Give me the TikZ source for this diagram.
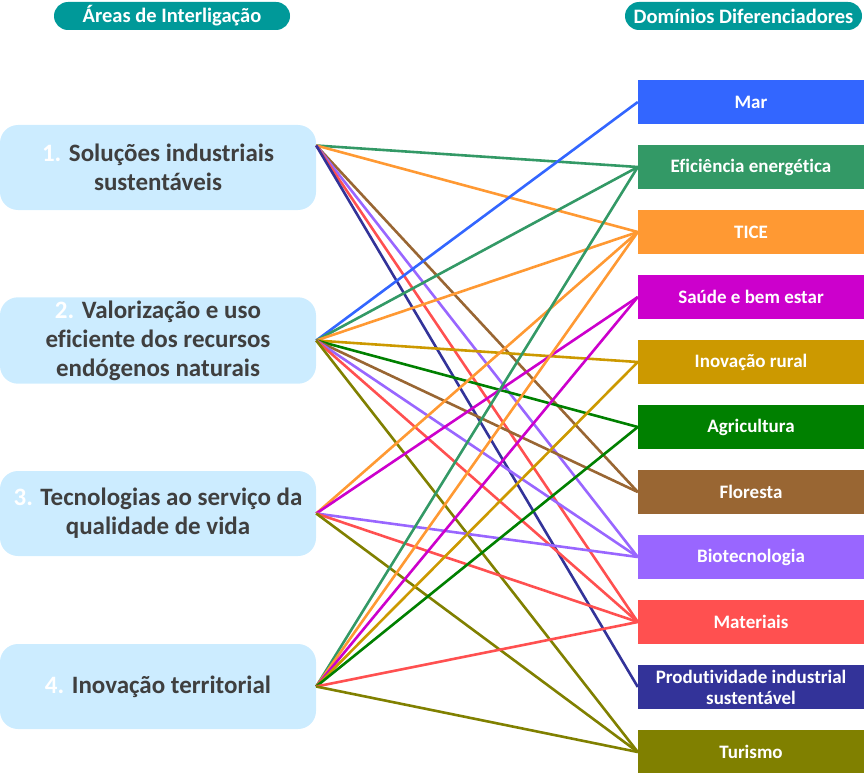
\documentclass[tikz,border=0pt]{standalone}
\usepackage{fontspec}
\setmainfont{Carlito}[Ligatures=NoCommon]
\usepackage[]{xcolor}
\usetikzlibrary{positioning}

\definecolor{areablue}{HTML}{CCECFF}
\definecolor{areatext}{HTML}{3F3F3F}
\definecolor{headteal}{HTML}{009999}
\definecolor{cmar}{HTML}{3366FF}
\definecolor{cefic}{HTML}{339966}
\definecolor{ctice}{HTML}{FF9933}
\definecolor{csaude}{HTML}{CC00CC}
\definecolor{crural}{HTML}{CC9900}
\definecolor{cagri}{HTML}{008000}
\definecolor{cflor}{HTML}{996633}
\definecolor{cbio}{HTML}{9966FF}
\definecolor{cmat}{HTML}{FF5050}
\definecolor{cprod}{HTML}{333399}
\definecolor{ctur}{HTML}{808000}

\newcommand{\numarea}[1]{\textcolor{white}{#1}}

\begin{document}
\begin{tikzpicture}[
            x=1pt, y=-1pt,
            node distance=65pt,
            titulo/.style={rectangle, fill=headteal, rounded corners=14pt, minimum width=236pt, minimum height=28pt, inner sep=0pt, text=white, font=\fontsize{20.5}{22}\selectfont\bfseries},
            area/.style={rectangle, fill=areablue, rounded corners=18pt, minimum width=316pt, minimum height=85pt, align=center, text=areatext, font=\fontsize{25}{29}\selectfont\bfseries},
            dominio/.style={rectangle, minimum width=226pt, minimum height=44pt, inner sep=2pt, align=center, text=white, font=\fontsize{19}{21}\selectfont\bfseries},
            link/.style={line width=2.6pt}
        ]
            \useasboundingbox (0,0) rectangle (864,773);

            \node[titulo] (tarea) at (172,16) {Áreas de Interligação};
            \node[titulo, minimum width=237pt] (tdom) at (743.5,16) {Domínios Diferenciadores};

            \node[area] (ai1) at (158,167.5) {\numarea{1.} Soluções industriais\\sustentáveis};
            \node[area, node distance=173pt, below of=ai1] (ai2) {\numarea{2.} Valorização e uso\\eficiente dos recursos\\endógenos naturais};
            \node[area, node distance=173pt, below of=ai2] (ai3) {\numarea{3.} Tecnologias ao serviço da\\qualidade de vida};
            \node[area, node distance=173pt, below of=ai3] (ai4) {\numarea{4.} Inovação territorial};
            \coordinate (ai1out) at ([yshift=22pt]ai1.east);

            \node[dominio, fill=cmar] (mar) at (751,102) {Mar};
            \node[dominio, fill=cefic, below of=mar] (efic) {Eficiência energética};
            \node[dominio, fill=ctice, below of=efic] (tice) {TICE};
            \node[dominio, fill=csaude, below of=tice] (saude) {Saúde e bem estar};
            \node[dominio, fill=crural, below of=saude] (rural) {Inovação rural};
            \node[dominio, fill=cagri, below of=rural] (agri) {Agricultura};
            \node[dominio, fill=cflor, below of=agri] (flor) {Floresta};
            \node[dominio, fill=cbio, below of=flor] (bio) {Biotecnologia};
            \node[dominio, fill=cmat, below of=bio] (mat) {Materiais};
            \node[dominio, fill=cprod, below of=mat] (prod) {Produtividade industrial\\sustentável};
            \node[dominio, fill=ctur, below of=prod] (tur) {Turismo};

            % 1. Soluções industriais sustentáveis
            \draw[link, cefic] (ai1out) -- (efic.west);
            \draw[link, ctice] (ai1out) -- (tice.west);
            \draw[link, cflor] (ai1out) -- (flor.west);
            \draw[link, cbio] (ai1out) -- (bio.west);
            \draw[link, cmat] (ai1out) -- (mat.west);
            \draw[link, cprod] (ai1out) -- (prod.west);

            % 2. Valorização e uso eficiente dos recursos
            \draw[link, cmar] (ai2.east) -- (mar.west);
            \draw[link, cefic] (ai2.east) -- (efic.west);
            \draw[link, ctice] (ai2.east) -- (tice.west);
            \draw[link, crural] (ai2.east) -- (rural.west);
            \draw[link, cagri] (ai2.east) -- (agri.west);
            \draw[link, cflor] (ai2.east) -- (flor.west);
            \draw[link, cbio] (ai2.east) -- (bio.west);
            \draw[link, cmat] (ai2.east) -- (mat.west);
            \draw[link, ctur] (ai2.east) -- (tur.west);

            % 3. Tecnologias ao serviço da qualidade de vida
            \draw[link, ctice] (ai3.east) -- (tice.west);
            \draw[link, csaude] (ai3.east) -- (saude.west);
            \draw[link, cbio] (ai3.east) -- (bio.west);
            \draw[link, cmat] (ai3.east) -- (mat.west);
            \draw[link, ctur] (ai3.east) -- (tur.west);

            % 4. Inovação territorial
            \draw[link, cefic] (ai4.east) -- (efic.west);
            \draw[link, ctice] (ai4.east) -- (tice.west);
            \draw[link, csaude] (ai4.east) -- (saude.west);
            \draw[link, crural] (ai4.east) -- (rural.west);
            \draw[link, cagri] (ai4.east) -- (agri.west);
            \draw[link, cmat] (ai4.east) -- (mat.west);
            \draw[link, ctur] (ai4.east) -- (tur.west);
        \end{tikzpicture}
\end{document}
